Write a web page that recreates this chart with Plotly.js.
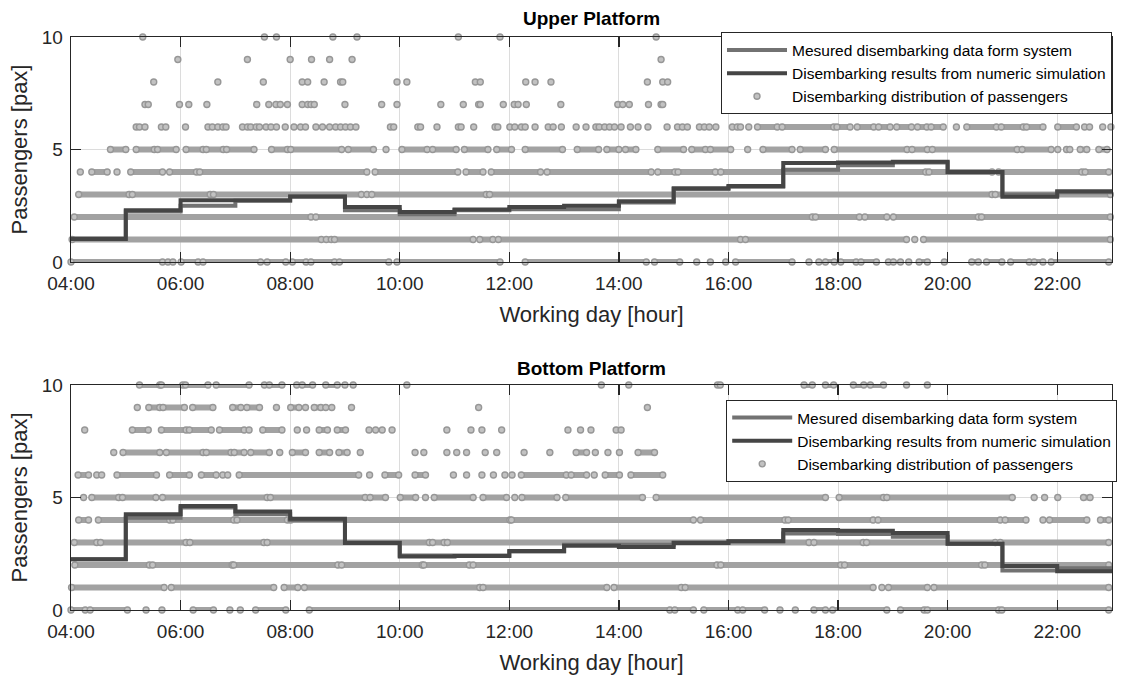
<!DOCTYPE html>
<html>
<head>
<meta charset="utf-8">
<script src="https://cdn.plot.ly/plotly-3.0.1.min.js"></script>
<style>html,body{margin:0;padding:0;background:#fff;}#chart{width:1129px;height:681px;}</style>
</head>
<body>
<div id="chart"></div>
<script>
// ---- data ----
const hourStarts = [4,5,6,7,8,9,10,11,12,13,14,15,16,17,18,19,20,21,22];
const dayEnd = 23;
const tickHours = [4,6,8,10,12,14,16,18,20,22];
const tickLabels = ['04:00','06:00','08:00','10:00','12:00','14:00','16:00','18:00','20:00','22:00'];

// Upper platform hourly means
const upperMeasured = [1.05,2.25,2.5,2.72,2.93,2.3,2.12,2.3,2.35,2.35,2.65,3.25,3.35,4.1,4.3,4.42,3.99,3.0,3.1];
const upperSimulated = [1.02,2.3,2.75,2.75,2.9,2.45,2.22,2.33,2.45,2.5,2.7,3.28,3.38,4.4,4.42,4.46,4.0,2.9,3.15];
// Bottom platform hourly means
const bottomMeasured = [2.25,4.1,4.55,4.25,4.0,3.0,2.42,2.42,2.6,2.9,2.9,3.0,3.05,3.4,3.38,3.25,2.94,1.75,1.85];
const bottomSimulated = [2.25,4.25,4.62,4.38,4.05,2.98,2.38,2.4,2.62,2.86,2.8,2.98,3.05,3.55,3.52,3.42,2.94,1.95,1.72];

// Distribution of passengers per train: for each count (0..10), single times (h) or dense runs [from,to]
const upperLevel0 = [[4.0,5.67],5.77,5.86,[6.01,6.32],[6.41,7.46],[7.58,7.92],[8.04,8.29],[8.38,8.81],[8.9,9.8],[9.95,11.83],[12.29,14.5],[14.65,15.11],15.42,15.67,15.95,[16.13,17.16],17.47,17.65,[17.77,17.93],[18.05,18.33],[18.42,18.7],[18.92,19.01],19.14,19.29,[19.48,19.63],19.94,[20.44,20.56],[20.71,20.99],[21.15,21.49],[21.58,21.74],[21.89,22.94]];
const upperLevel1 = [[4.02,8.57],[8.66,8.75],[8.81,11.34],[11.46,11.7],[11.8,16.22],[16.31,19.25],19.4,[19.56,22.97]];
const upperLevel2 = [[4.06,8.38],[8.47,17.53],[17.59,18.39],[18.49,18.89],[19.01,20.56],[20.62,22.97]];
const upperLevel3 = [[4.14,5.06],[5.12,6.54],[6.6,9.3],9.4,[9.49,11.58],[11.64,20.81],[20.87,22.97]];
const upperLevel4 = [4.17,[4.38,4.66],4.84,[5.09,5.67],[5.8,6.29],[6.35,9.4],[9.55,11.06],[11.21,11.52],[11.67,12.57],[12.69,14.59],[14.71,15.02],[15.08,15.76],[15.86,19.6],[19.66,20.81],[20.93,22.45],[22.51,22.94]];
const upperLevel5 = [[4.72,5.0],[5.19,5.52],[5.58,5.92],[6.1,6.41],[6.47,6.78],[6.84,7.34],[7.66,7.95],[8.01,8.94],[9.06,9.52],9.75,[10.04,10.5],[10.6,11.03],[11.18,11.61],[11.77,12.04],[12.29,12.97],[13.24,13.63],[13.78,14.0],[14.12,14.31],[14.71,15.18],[15.33,15.58],[15.67,16.04],16.35,[16.63,17.16],[17.31,17.77],[17.93,19.26],[19.35,19.63],[19.72,21.27],[21.36,21.89],22.01,[22.17,22.23],[22.42,22.54],[22.76,22.91]];
const upperLevel6 = [5.19,5.25,5.35,5.65,5.73,6.09,6.5,6.58,6.68,6.77,6.83,7.13,7.22,7.28,7.38,7.44,7.56,7.65,7.75,7.91,8.07,8.19,8.28,8.47,8.59,8.72,8.83,8.92,9.01,9.1,9.2,9.83,9.89,10.33,10.38,10.68,11.07,11.12,11.35,11.74,11.79,12.01,12.1,12.22,12.29,12.47,12.71,12.8,12.95,13.22,13.4,13.58,13.64,13.74,13.83,13.92,14.04,14.21,14.35,14.53,14.88,15.07,15.16,15.25,15.47,15.56,15.65,15.77,16.07,16.16,16.22,16.37,[16.53,16.89],[16.98,17.92],[17.98,18.22],[18.35,18.65],[18.74,18.95],[19.07,19.34],[19.45,19.62],[19.7,19.92],20.16,[20.35,20.89],[20.98,21.38],[21.44,21.74],[22.01,22.35],22.5,22.59,22.83,22.98];
const upperLevel7 = [5.35,5.41,5.98,6.15,6.48,7.39,7.61,7.74,7.82,7.95,8.22,8.32,8.38,8.44,9.0,9.67,9.95,10.75,11.16,11.44,11.47,11.89,12.09,12.16,12.31,12.94,13.98,14.07,14.19,14.54,14.77,14.8];
const upperLevel8 = [5.51,6.68,7.51,8.22,8.32,8.62,8.92,8.96,9.95,10.13,11.38,11.47,12.3,12.47,12.76,14.52,14.8,14.89];
const upperLevel9 = [5.95,7.22,8.0,8.39,8.72,9.13,14.77];
const upperLevel10 = [5.31,7.53,7.75,8.78,9.22,11.07,11.83,14.68];

const bottomLevel0 = [[4.0,4.26],[4.35,5.03],5.37,5.66,[6.23,6.6],6.9,7.09,[7.37,7.92],[8.35,14.93],[15.02,15.36],[15.55,16.17],[16.26,16.66],16.94,17.22,[17.56,17.77],[17.9,18.89],[19.14,19.57],[19.63,20.93],[20.99,22.94]];
const bottomLevel1 = [[4.01,5.7],[5.83,7.7],[7.89,8.14],[8.26,11.46],[11.52,13.78],[13.91,15.14],[15.21,18.64],18.8,[18.92,19.63],[19.75,22.94]];
const bottomLevel2 = [[4.07,5.43],[5.49,6.94],[6.97,8.87],[8.94,10.41],[10.44,11.27],[11.34,15.79],[15.86,18.05],[18.12,20.62],[20.68,22.94]];
const bottomLevel3 = [[4.06,4.47],[4.54,6.1],[6.17,7.52],[7.58,10.54],[10.6,10.81],[10.87,17.47],[17.56,18.46],[18.52,20.87],[20.96,22.94]];
const bottomLevel4 = [[4.14,4.32],[4.5,5.8],[5.86,6.97],[7.03,7.95],[8.01,12.01],[12.04,15.36],[15.49,17.03],[17.09,18.64],[18.73,20.96],[21.05,21.43],21.74,[21.86,22.54],[22.79,22.94]];
const bottomLevel5 = [4.23,[4.38,4.87],[4.94,5.55],[5.67,7.58],[7.64,9.37],[9.46,9.74],[10.01,10.29],10.47,[10.63,11.34],[11.52,11.95],12.1,[12.23,12.87],[13.03,14.43],[14.68,17.77],[18.02,18.83],[18.89,21.18],21.58,21.77,22.01,[22.48,22.6]];
const bottomLevel6 = [[4.13,4.32],[4.47,4.56],[4.84,5.56],[5.8,6.16],[6.38,6.65],[6.77,6.86],[7.07,9.25],9.45,[9.73,9.98],[10.28,10.47],10.98,11.22,11.5,11.71,11.92,12.05,[12.22,13.04],[13.13,13.41],13.55,[13.75,14.01],[14.22,14.8]];
const bottomLevel7 = [4.78,[4.95,5.62],[5.74,6.41],[6.47,6.92],[6.98,7.16],[7.28,7.62],7.81,[8.04,8.28],[8.53,8.72],[8.89,9.04],9.28,10.28,10.44,10.86,11.04,11.22,11.56,11.77,12.27,12.74,[13.22,13.41],13.57,13.8,14.01,[14.35,14.65]];
const bottomLevel8 = [4.25,[5.12,5.41],[5.65,6.1],[6.16,6.56],[6.71,7.16],7.25,[7.5,7.85],8.13,8.3,[8.53,8.68],[8.86,9.01],9.44,9.56,9.68,9.86,10.86,11.3,11.5,11.86,13.07,13.3,13.49,[13.95,14.04]];
const bottomLevel9 = [5.21,[5.42,5.62],[5.68,6.07],[6.22,6.59],[6.95,7.1],[7.21,7.44],7.75,[8.01,8.16],8.28,[8.44,8.56],8.65,8.76,9.12,11.44,14.52];
const bottomLevel10 = [[5.25,5.62],[5.65,6.04],[6.09,6.5],[6.65,7.25],7.53,[7.62,7.85],8.12,[8.22,8.41],[8.65,8.86],9.0,9.15,10.13,13.68,14.18,15.8,15.85,[17.38,17.53],[17.77,17.92],[18.28,18.47],[18.59,18.83],19.25,19.63];

const upperLevels = [upperLevel0,upperLevel1,upperLevel2,upperLevel3,upperLevel4,upperLevel5,upperLevel6,upperLevel7,upperLevel8,upperLevel9,upperLevel10];
const bottomLevels = [bottomLevel0,bottomLevel1,bottomLevel2,bottomLevel3,bottomLevel4,bottomLevel5,bottomLevel6,bottomLevel7,bottomLevel8,bottomLevel9,bottomLevel10];

const nameMeasured = 'Mesured disembarking data form system';
const nameSimulated = 'Disembarking results from numeric simulation';
const nameDist = 'Disembarking distribution of passengers';

// ---- traces ----
function dotTraces(levels, xa, ya, legend) {
  const lx = [], ly = [], mx = [], my = [];
  levels.forEach((arr, lvl) => {
    arr.forEach(item => {
      if (Array.isArray(item)) {
        lx.push(item[0], item[1], null); ly.push(lvl, lvl, null);
        mx.push(item[0], item[1]); my.push(lvl, lvl);
      } else { mx.push(item); my.push(lvl); }
    });
  });
  return [
    {type:'scatter', mode:'lines', x:lx, y:ly, xaxis:xa, yaxis:ya, legend:legend,
     line:{color:'#a2a2a2', width:6}, showlegend:false, hoverinfo:'skip', connectgaps:false},
    {type:'scatter', mode:'markers', x:mx, y:my, xaxis:xa, yaxis:ya, legend:legend,
     name:nameDist, legendrank:3, cliponaxis:false,
     marker:{symbol:'circle', size:6, color:'#c2c2c2', line:{color:'#979797', width:1.4}}}
  ];
}
function stepTrace(vals, name, color, xa, ya, legend, rank) {
  return {type:'scatter', mode:'lines', name:name, legendrank:rank, legend:legend,
    x: hourStarts.concat([dayEnd]), y: vals.concat([vals[vals.length-1]]),
    xaxis:xa, yaxis:ya, line:{shape:'hv', color:color, width:4}};
}

const traces = [].concat(
  dotTraces(upperLevels, 'x', 'y', 'legend'),
  [stepTrace(upperMeasured, nameMeasured, '#727272', 'x', 'y', 'legend', 1),
   stepTrace(upperSimulated, nameSimulated, '#454545', 'x', 'y', 'legend', 2)],
  dotTraces(bottomLevels, 'x2', 'y2', 'legend2'),
  [stepTrace(bottomMeasured, nameMeasured, '#727272', 'x2', 'y2', 'legend2', 1),
   stepTrace(bottomSimulated, nameSimulated, '#454545', 'x2', 'y2', 'legend2', 2)]
);

// ---- layout ----
const FONT = 'Liberation Sans, Arial, sans-serif';
const INK = '#262626';
function xAxis(anchor) {
  return {anchor:anchor, domain:[0,1], range:[4,23], tickvals:tickHours, ticktext:tickLabels,
    ticks:'inside', ticklen:10, tickwidth:1.3, tickcolor:INK, showline:true, linecolor:INK, linewidth:1.3,
    mirror:'ticks', showgrid:true, gridcolor:'#dcdcdc', gridwidth:1, zeroline:false,
    ticklabelstandoff:4,
    tickfont:{family:FONT, size:19, color:INK},
    title:{text:'Working day [hour]', font:{family:FONT, size:22, color:INK}, standoff:13}};
}
function yAxis(anchor, domain) {
  return {anchor:anchor, domain:domain, range:[0,10], tickvals:[0,5,10],
    ticks:'inside', ticklen:10, tickwidth:1.3, tickcolor:INK, showline:true, linecolor:INK, linewidth:1.3,
    mirror:'ticks', showgrid:true, gridcolor:'#dcdcdc', gridwidth:1, zeroline:false,
    ticklabelstandoff:3,
    tickfont:{family:FONT, size:19, color:INK},
    title:{text:'Passengers [pax]', font:{family:FONT, size:22, color:INK}, standoff:8}};
}
function legendBox(x, y) {
  return {x:x, xanchor:'right', y:y, yanchor:'top', bgcolor:'#ffffff', bordercolor:INK, borderwidth:1,
    font:{family:FONT, size:15.5, color:'#000'}, tracegroupgap:0, itemwidth:60};
}

const layout = {
  width:1129, height:681,
  margin:{l:71, r:12, t:37, b:71},
  paper_bgcolor:'#ffffff', plot_bgcolor:'#ffffff',
  font:{family:FONT, color:INK},
  showlegend:true,
  xaxis: xAxis('y'),
  yaxis: yAxis('x', [0.6073, 1]),
  xaxis2: xAxis('y2'),
  yaxis2: yAxis('x2', [0, 0.3927]),
  legend: legendBox(1.0, 1.008),
  legend2: legendBox(1.005, 0.3665),
  annotations:[
    {text:'<b>Upper Platform</b>', xref:'paper', yref:'paper', x:0.5, y:1.033, xanchor:'center', yanchor:'middle', showarrow:false, font:{family:FONT, size:19, color:'#000'}},
    {text:'<b>Bottom Platform</b>', xref:'paper', yref:'paper', x:0.5, y:0.4223, xanchor:'center', yanchor:'middle', showarrow:false, font:{family:FONT, size:19, color:'#000'}}
  ]
};

Plotly.newPlot('chart', traces, layout, {staticPlot:true, displayModeBar:false});
</script>
</body>
</html>
